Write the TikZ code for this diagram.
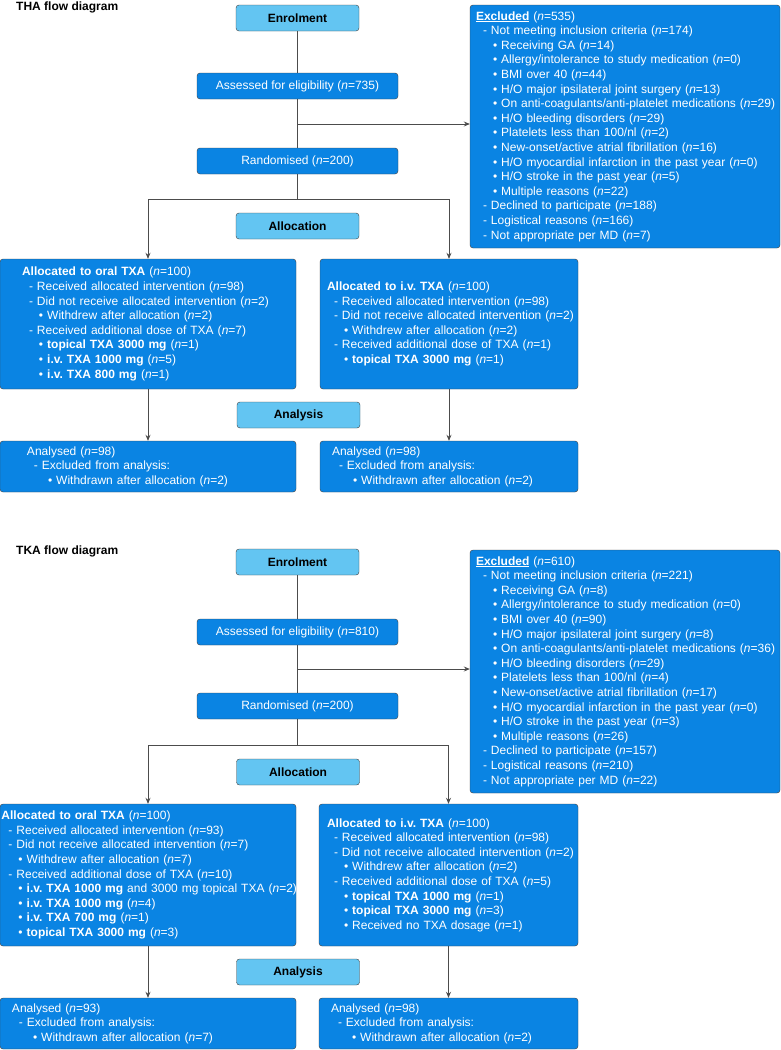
\documentclass[tikz,border=0pt]{standalone}
\usepackage{fontspec}
\setmainfont{Liberation Sans}
\usetikzlibrary{arrows.meta}

\definecolor{mainblue}{HTML}{0A84E3}
\definecolor{lightblue}{HTML}{63C5F2}
\newcommand\flowfont{\fontsize{12pt}{14.6pt}\selectfont\frenchspacing}
\newcommand\nval[1]{(\textit{n}=#1)}
\newcommand\dashln[1]{\mbox{\hspace*{7pt}- #1}}
\newcommand\bulln[2][17pt]{\mbox{\hspace*{#1}\textbullet\ #2}}

\begin{document}
\begin{tikzpicture}
  [x=1pt,y=-1pt,
   every node/.style={font=\flowfont},
   heading/.style={anchor=base west,inner sep=0pt,font=\flowfont\bfseries},
   stage/.style={draw=black!75,fill=lightblue,rounded corners=3pt,minimum width=123pt,minimum height=26pt,inner sep=0pt,font=\flowfont\bfseries},
   count/.style={draw=black!75,fill=mainblue,text=white,rounded corners=3pt,minimum width=201pt,minimum height=26pt,inner sep=0pt},
   panel/.style n args={4}{draw=black!75,fill=mainblue,text=white,rounded corners=3pt,align=left,minimum width=#1pt,minimum height=#2pt,inner xsep=#3pt,inner ysep=0pt,text width=#4pt},
   link/.style={draw=black!70,line width=0.8pt},
   arr/.style={-{Stealth[length=6pt,width=5pt]}}]
  \useasboundingbox (0,0) rectangle (781,1050);

  % THA
  \node[heading] (titleA) at (16,10.5) {THA flow diagram};
  \node[stage] (enrolA) at (297.5,18) {Enrolment};
  \node[count] (assessA) at (297.5,86) {Assessed for eligibility \nval{735}};
  \node[count] (randA) at (297.5,161) {Randomised \nval{200}};
  \node[stage] (allocA) at (297.5,226) {Allocation};
  \node[panel={310}{243}{6}{298}] (exclA) at (625,126.5) {\underline{\textbf{Excluded}} \nval{535}\\
    \dashln{Not meeting inclusion criteria \nval{174}}\\
    \bulln{Receiving GA \nval{14}}\\
    \bulln{Allergy/intolerance to study medication \nval{0}}\\
    \bulln{BMI over 40 \nval{44}}\\
    \bulln{H/O major ipsilateral joint surgery \nval{13}}\\
    \bulln{On anti-coagulants/anti-platelet medications \nval{29}}\\
    \bulln{H/O bleeding disorders \nval{29}}\\
    \bulln{Platelets less than 100/nl \nval{2}}\\
    \bulln{New-onset/active atrial fibrillation \nval{16}}\\
    \bulln{H/O myocardial infarction in the past year \nval{0}}\\
    \bulln{H/O stroke in the past year \nval{5}}\\
    \bulln{Multiple reasons \nval{22}}\\
    \dashln{Declined to participate \nval{188}}\\
    \dashln{Logistical reasons \nval{166}}\\
    \dashln{Not appropriate per MD \nval{7}}};
  \node[panel={296}{130}{22}{252}] (oralA) at (148,324) {\textbf{Allocated to oral TXA} \nval{100}\\
    \dashln{Received allocated intervention \nval{98}}\\
    \dashln{Did not receive allocated intervention \nval{2}}\\
    \bulln{Withdrew after allocation \nval{2}}\\
    \dashln{Received additional dose of TXA \nval{7}}\\
    \bulln{\textbf{topical TXA 3000 mg} \nval{1}}\\
    \bulln{\textbf{i.v. TXA 1000 mg} \nval{5}}\\
    \bulln{\textbf{i.v. TXA 800 mg} \nval{1}}};
  \node[panel={258}{130}{7}{244}] (ivA) at (449,324) {\textbf{Allocated to i.v. TXA} \nval{100}\\
    \dashln{Received allocated intervention \nval{98}}\\
    \dashln{Did not receive allocated intervention \nval{2}}\\
    \bulln{Withdrew after allocation \nval{2}}\\
    \dashln{Received additional dose of TXA \nval{1}}\\
    \bulln{\textbf{topical TXA 3000 mg} \nval{1}}};
  \node[stage] (analA) at (298.5,415) {Analysis};
  \node[panel={296}{51}{27}{242}] (anOA) at (148,466.5) {Analysed \nval{98}\\
    \dashln{Excluded from analysis:}\\
    \bulln[21pt]{Withdrawn after allocation \nval{2}}};
  \node[panel={258}{51}{12}{234}] (anIA) at (449,466.5) {Analysed \nval{98}\\
    \dashln{Excluded from analysis:}\\
    \bulln[21pt]{Withdrawn after allocation \nval{2}}};
  \coordinate (brA) at (297.5,124);
  \coordinate (spA) at (297.5,199);
  \coordinate (spLA) at (148,199);
  \coordinate (spRA) at (449,199);

  % TKA
  \node[heading] (titleB) at (16,554.5) {TKA flow diagram};
  \node[stage] (enrolB) at (297.5,562) {Enrolment};
  \node[count] (assessB) at (297.5,632) {Assessed for eligibility \nval{810}};
  \node[count] (randB) at (297.5,706) {Randomised \nval{200}};
  \node[stage] (allocB) at (298,772) {Allocation};
  \node[panel={310}{243}{6}{298}] (exclB) at (625,671.5) {\underline{\textbf{Excluded}} \nval{610}\\
    \dashln{Not meeting inclusion criteria \nval{221}}\\
    \bulln{Receiving GA \nval{8}}\\
    \bulln{Allergy/intolerance to study medication \nval{0}}\\
    \bulln{BMI over 40 \nval{90}}\\
    \bulln{H/O major ipsilateral joint surgery \nval{8}}\\
    \bulln{On anti-coagulants/anti-platelet medications \nval{36}}\\
    \bulln{H/O bleeding disorders \nval{29}}\\
    \bulln{Platelets less than 100/nl \nval{4}}\\
    \bulln{New-onset/active atrial fibrillation \nval{17}}\\
    \bulln{H/O myocardial infarction in the past year \nval{0}}\\
    \bulln{H/O stroke in the past year \nval{3}}\\
    \bulln{Multiple reasons \nval{26}}\\
    \dashln{Declined to participate \nval{157}}\\
    \dashln{Logistical reasons \nval{210}}\\
    \dashln{Not appropriate per MD \nval{22}}};
  \node[panel={296}{142}{1.5}{293}] (oralB) at (148,875) {\textbf{Allocated to oral TXA} \nval{100}\\
    \dashln{Received allocated intervention \nval{93}}\\
    \dashln{Did not receive allocated intervention \nval{7}}\\
    \bulln{Withdrew after allocation \nval{7}}\\
    \dashln{Received additional dose of TXA \nval{10}}\\
    \bulln{\textbf{i.v. TXA 1000 mg} and 3000 mg topical TXA \nval{2}}\\
    \bulln{\textbf{i.v. TXA 1000 mg} \nval{4}}\\
    \bulln{\textbf{i.v. TXA 700 mg} \nval{1}}\\
    \bulln{\textbf{topical TXA 3000 mg} \nval{3}}};
  \node[panel={259}{142}{8}{243}] (ivB) at (448.5,875) {\textbf{Allocated to i.v. TXA} \nval{100}\\
    \dashln{Received allocated intervention \nval{98}}\\
    \dashln{Did not receive allocated intervention \nval{2}}\\
    \bulln{Withdrew after allocation \nval{2}}\\
    \dashln{Received additional dose of TXA \nval{5}}\\
    \bulln{\textbf{topical TXA 1000 mg} \nval{1}}\\
    \bulln{\textbf{topical TXA 3000 mg} \nval{3}}\\
    \bulln{Received no TXA dosage \nval{1}}};
  \node[stage] (analB) at (298,972) {Analysis};
  \node[panel={296}{51}{12}{272}] (anOB) at (148,1023.5) {Analysed \nval{93}\\
    \dashln{Excluded from analysis:}\\
    \bulln[21pt]{Withdrawn after allocation \nval{7}}};
  \node[panel={259}{51}{12}{235}] (anIB) at (448.5,1023.5) {Analysed \nval{98}\\
    \dashln{Excluded from analysis:}\\
    \bulln[21pt]{Withdrawn after allocation \nval{2}}};
  \coordinate (brB) at (297.5,669);
  \coordinate (spB) at (297.5,745);
  \coordinate (spLB) at (148,745);
  \coordinate (spRB) at (448.5,745);

  \foreach \from/\to in {enrolA/assessA,assessA/randA,randA/spA,spLA/spRA,
                         enrolB/assessB,assessB/randB,randB/spB,spLB/spRB}
    \draw[link] (\from) -- (\to);
  \foreach \from/\to in {spLA/oralA,spRA/ivA,oralA/anOA,ivA/anIA,
                         spLB/oralB,spRB/ivB,oralB/anOB,ivB/anIB}
    \draw[link,arr] (\from) -- (\to);
  \draw[link,arr] (brA) -- (brA -| exclA.west);
  \draw[link,arr] (brB) -- (brB -| exclB.west);

\end{tikzpicture}
\end{document}
